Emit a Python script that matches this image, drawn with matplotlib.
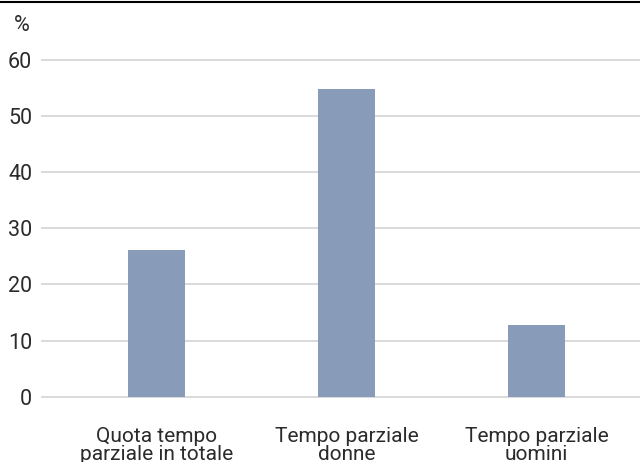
import matplotlib.pyplot as plt
from matplotlib.lines import Line2D

# data
categories = ["Quota tempo\nparziale in totale", "Tempo parziale\ndonne", "Tempo parziale\nuomini"]
values = [26.1, 54.8, 12.8]
yticks = [0, 10, 20, 30, 40, 50, 60]

plt.rcParams['font.family'] = ['Roboto', 'DejaVu Sans']

fig = plt.figure(figsize=(6.4, 4.62), dpi=100)
ax = fig.add_axes([0.0656, 0.1413, 0.9344, 0.7299])

x = range(len(categories))
ax.bar(x, values, width=0.3, color='#889cba', zorder=3)

ax.set_xlim(-0.603, 2.544)
ax.set_ylim(0, 60)
ax.set_yticks(yticks)
for t in yticks:
    ax.axhline(t, color='#d3d3d3', linewidth=1.2, zorder=1, clip_on=False)

ax.set_xticks(list(x))
ax.set_xticklabels(categories, linespacing=0.92)
for s in ax.spines.values():
    s.set_visible(False)
ax.tick_params(axis='y', length=0, pad=7, labelsize=15.5, labelcolor='#2b2b2b')
ax.tick_params(axis='x', length=0, pad=22, labelsize=15, labelcolor='#2b2b2b')

fig.text(0.022, 0.967, '%', fontsize=15.5, color='#2b2b2b', va='top')
fig.add_artist(Line2D([0, 1], [0.9965, 0.9965], color='black', linewidth=1.5, transform=fig.transFigure))

fig.savefig('out.png', dpi=100)
